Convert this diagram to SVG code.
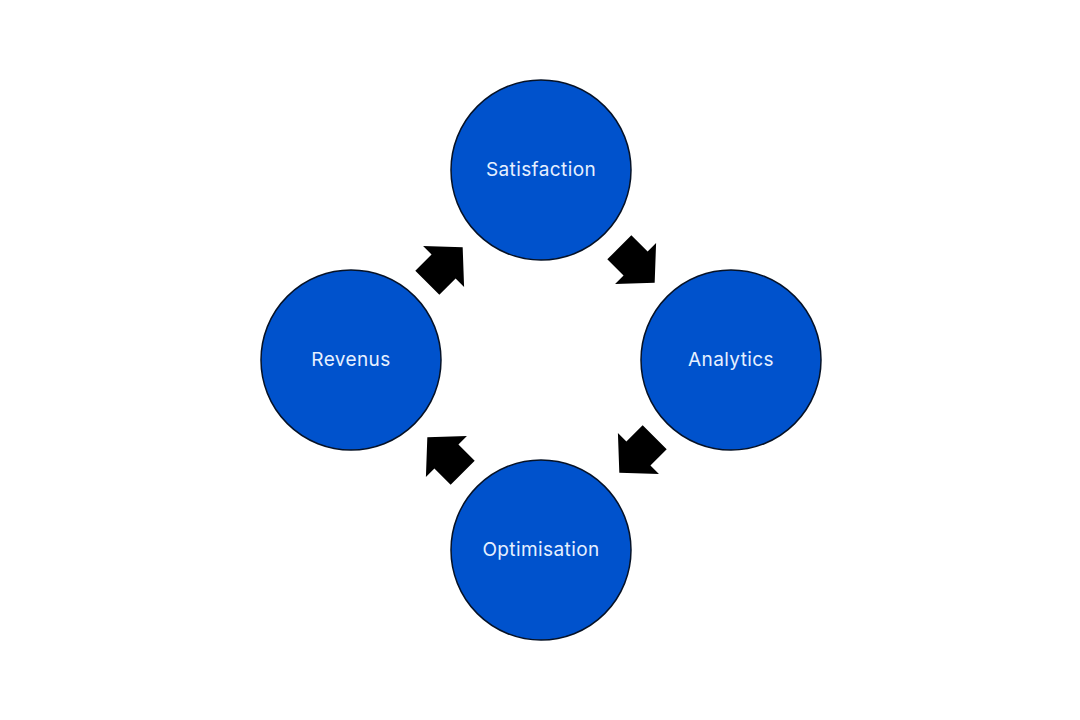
<svg xmlns="http://www.w3.org/2000/svg" width="1080" height="720" viewBox="0 0 1080 720">
<defs>
<style>
.node circle{fill:#0052CC;stroke:#061226;stroke-width:1.5}
.node text{fill:#E6F0FF;font-family:Inter,"Liberation Sans",sans-serif;font-size:19px;letter-spacing:0.4px;text-anchor:middle;dominant-baseline:central}
.arrow{fill:#000}
</style>
<polygon id="blk" points="-25,-17 -2,-17 -2,-29 25,0 -2,29 -2,17 -25,17"/>
</defs>
<rect width="1080" height="720" fill="#fff"/>
<g id="connectors" class="arrow">
<use href="#blk" transform="translate(637,265) rotate(45)"/>
<use href="#blk" transform="translate(637,455) rotate(135)"/>
<use href="#blk" transform="translate(445,455) rotate(-135)"/>
<use href="#blk" transform="translate(445,265) rotate(-45)"/>
</g>
<g id="satisfaction" class="node"><circle cx="541" cy="170" r="90"/><text x="541" y="169">Satisfaction</text></g>
<g id="analytics" class="node"><circle cx="731" cy="360" r="90"/><text x="731" y="359">Analytics</text></g>
<g id="optimisation" class="node"><circle cx="541" cy="550" r="90"/><text x="541" y="549">Optimisation</text></g>
<g id="revenus" class="node"><circle cx="351" cy="360" r="90"/><text x="351" y="359">Revenus</text></g>
</svg>
